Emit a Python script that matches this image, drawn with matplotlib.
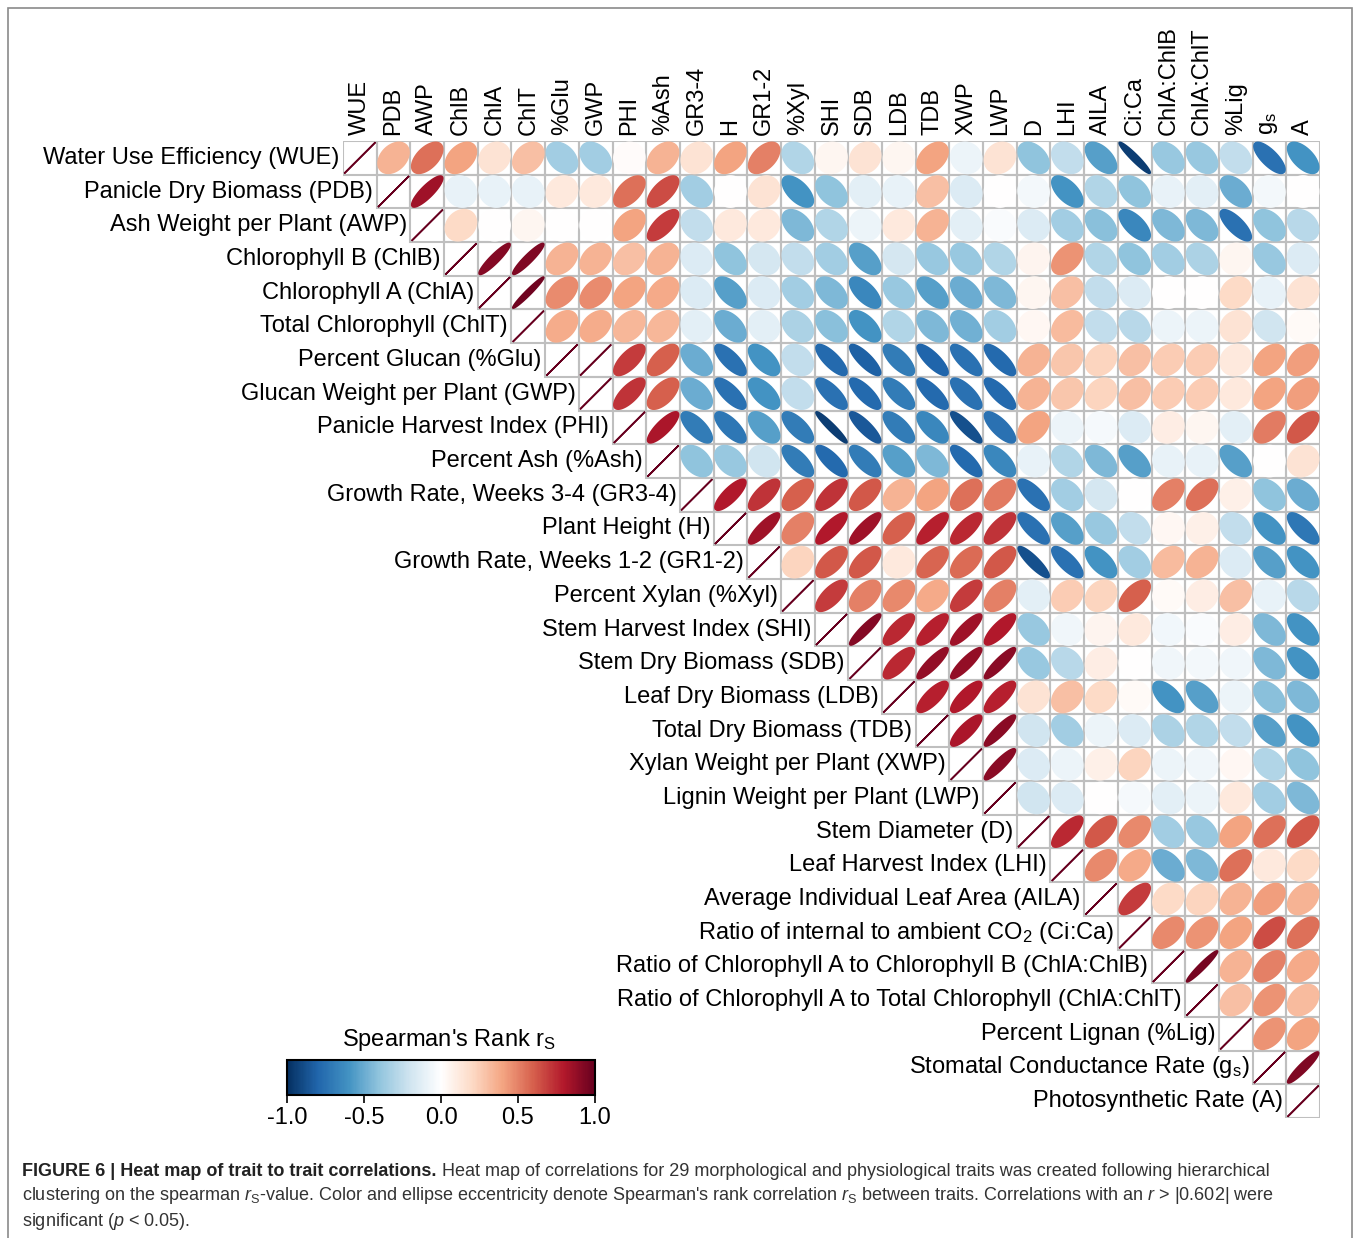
import matplotlib
matplotlib.use("Agg")
import matplotlib.pyplot as plt
import numpy as np
from matplotlib.colors import LinearSegmentedColormap
from matplotlib.patches import Polygon, Rectangle
from matplotlib.cm import ScalarMappable
from matplotlib.colors import Normalize

plt.rcParams['font.family'] = ['Liberation Sans', 'DejaVu Sans']
plt.rcParams['mathtext.fontset'] = 'custom'
plt.rcParams['mathtext.rm'] = 'Liberation Sans'
plt.rcParams['mathtext.it'] = 'Liberation Sans:italic'

short_names = ['WUE', 'PDB', 'AWP', 'ChlB', 'ChlA', 'ChlT', '%Glu', 'GWP', 'PHI', '%Ash',
               'GR3-4', 'H', 'GR1-2', '%Xyl', 'SHI', 'SDB', 'LDB', 'TDB', 'XWP', 'LWP',
               'D', 'LHI', 'AILA', 'Ci:Ca', 'ChlA:ChlB', 'ChlA:ChlT', '%Lig',
               r'g$_\mathregular{s}$', 'A']

long_names = ['Water Use Efficiency (WUE)', 'Panicle Dry Biomass (PDB)', 'Ash Weight per Plant (AWP)',
              'Chlorophyll B (ChlB)', 'Chlorophyll A (ChlA)', 'Total Chlorophyll (ChlT)',
              'Percent Glucan (%Glu)', 'Glucan Weight per Plant (GWP)', 'Panicle Harvest Index (PHI)',
              'Percent Ash (%Ash)', 'Growth Rate, Weeks 3-4 (GR3-4)', 'Plant Height (H)',
              'Growth Rate, Weeks 1-2 (GR1-2)', 'Percent Xylan (%Xyl)', 'Stem Harvest Index (SHI)',
              'Stem Dry Biomass (SDB)', 'Leaf Dry Biomass (LDB)', 'Total Dry Biomass (TDB)',
              'Xylan Weight per Plant (XWP)', 'Lignin Weight per Plant (LWP)', 'Stem Diameter (D)',
              'Leaf Harvest Index (LHI)', 'Average Individual Leaf Area (AILA)',
              r'Ratio of internal to ambient CO$_\mathregular{2}$ (Ci:Ca)',
              'Ratio of Chlorophyll A to Chlorophyll B (ChlA:ChlB)',
              'Ratio of Chlorophyll A to Total Chlorophyll (ChlA:ChlT)', 'Percent Lignan (%Lig)',
              r'Stomatal Conductance Rate (g$_\mathregular{s}$)', 'Photosynthetic Rate (A)']

# upper triangle of the spearman matrix, row i holds columns i+1 .. 28
upper_r = [
    [0.35, 0.55, 0.4, 0.15, 0.3, -0.35, -0.35, 0.02, 0.35, 0.15, 0.4, 0.5, -0.3, 0.05, 0.15, 0.05, 0.4, -0.08,
     0.15, -0.4, -0.25, -0.55, -0.95, -0.38, -0.38, -0.25, -0.75, -0.6],
    [0.85, -0.1, -0.1, -0.1, 0.12, 0.12, 0.55, 0.65, -0.35, 0.0, 0.15, -0.6, -0.4, -0.12, -0.1, 0.3, -0.15, 0.0,
     -0.05, -0.6, -0.3, -0.4, -0.1, -0.12, -0.5, -0.05, 0.0],
    [0.2, 0.0, 0.05, 0.0, 0.0, 0.4, 0.7, -0.25, 0.12, 0.12, -0.45, -0.3, -0.08, 0.12, 0.35, -0.12, -0.03,
     -0.15, -0.35, -0.42, -0.65, -0.45, -0.45, -0.75, -0.4, -0.28],
    [0.92, 0.93, 0.35, 0.35, 0.3, 0.35, -0.15, -0.4, -0.18, -0.25, -0.35, -0.55, -0.18, -0.38, -0.38, -0.3,
     0.06, 0.45, -0.3, -0.4, -0.35, -0.32, 0.05, -0.38, -0.15],
    [0.97, 0.47, 0.47, 0.4, 0.38, -0.15, -0.55, -0.15, -0.35, -0.45, -0.65, -0.38, -0.55, -0.5, -0.45,
     0.05, 0.3, -0.25, -0.15, 0.0, 0.0, 0.2, -0.1, 0.15],
    [0.37, 0.37, 0.33, 0.33, -0.12, -0.5, -0.12, -0.32, -0.42, -0.6, -0.3, -0.45, -0.48, -0.35,
     0.04, 0.32, -0.25, -0.28, -0.08, -0.08, 0.15, -0.2, 0.03],
    [1.0, 0.7, 0.6, -0.5, -0.75, -0.6, -0.25, -0.78, -0.82, -0.7, -0.8, -0.75, -0.78,
     0.35, 0.28, 0.22, 0.3, 0.25, 0.25, 0.12, 0.4, 0.42],
    [0.72, 0.6, -0.5, -0.75, -0.6, -0.25, -0.75, -0.78, -0.7, -0.78, -0.75, -0.78,
     0.35, 0.28, 0.22, 0.3, 0.25, 0.25, 0.12, 0.4, 0.42],
    [0.82, -0.7, -0.72, -0.55, -0.7, -0.95, -0.85, -0.7, -0.65, -0.88, -0.75,
     0.4, -0.08, -0.04, -0.15, 0.1, 0.05, -0.12, 0.52, 0.62],
    [-0.4, -0.38, -0.2, -0.7, -0.78, -0.7, -0.55, -0.45, -0.78, -0.65,
     -0.1, -0.3, -0.45, -0.55, -0.1, -0.1, -0.55, 0.0, 0.15],
    [0.8, 0.72, 0.6, 0.72, 0.62, 0.35, 0.4, 0.55, 0.52, -0.75, -0.35, -0.18, 0.0, 0.5, 0.55, 0.08, -0.4, -0.5],
    [0.85, 0.5, 0.8, 0.85, 0.6, 0.78, 0.75, 0.72, -0.75, -0.55, -0.38, -0.25, 0.04, 0.08, -0.25, -0.6, -0.72],
    [0.22, 0.62, 0.62, 0.12, 0.58, 0.57, 0.62, -0.88, -0.75, -0.6, -0.35, 0.32, 0.35, -0.15, -0.55, -0.6],
    [0.7, 0.5, 0.48, 0.38, 0.7, 0.5, -0.12, 0.25, 0.22, 0.6, 0.03, 0.1, 0.3, -0.1, -0.28],
    [0.92, 0.75, 0.78, 0.85, 0.8, -0.38, -0.07, 0.06, 0.12, -0.06, -0.03, 0.1, -0.45, -0.6],
    [0.75, 0.88, 0.88, 0.9, -0.38, -0.28, 0.1, 0.0, -0.07, -0.05, -0.07, -0.45, -0.6],
    [0.78, 0.8, 0.78, 0.15, 0.3, 0.2, 0.03, -0.6, -0.55, -0.08, -0.42, -0.45],
    [0.82, 0.9, -0.2, -0.35, -0.08, -0.15, -0.32, -0.3, -0.25, -0.55, -0.6],
    [0.9, -0.15, -0.08, 0.08, 0.22, -0.08, -0.07, 0.04, -0.3, -0.4],
    [-0.2, -0.15, 0.0, -0.04, -0.12, -0.08, 0.12, -0.35, -0.45],
    [0.75, 0.62, 0.48, -0.35, -0.38, 0.4, 0.55, 0.62],
    [0.48, 0.38, -0.5, -0.45, 0.55, 0.12, 0.2],
    [0.7, 0.2, 0.22, 0.35, 0.42, 0.35],
    [0.48, 0.45, 0.4, 0.65, 0.55],
    [0.96, 0.35, 0.5, 0.38],
    [0.3, 0.45, 0.32],
    [0.45, 0.4],
    [0.93],
]

n = len(short_names)
R = np.eye(n)
for i, row in enumerate(upper_r):
    R[i, i + 1:] = row

cmap = LinearSegmentedColormap.from_list(
    'corr', ["#053061", "#2166AC", "#4393C3", "#92C5DE", "#D1E5F0", "#FFFFFF",
             "#FDDBC7", "#F4A582", "#D6604D", "#B2182B", "#67001F"])

W, H = 1358, 1238
fig = plt.figure(figsize=(W / 100, H / 100), dpi=100)

# outer frame
fig.patches.append(Rectangle((8 / W, -0.01), 1344 / W, 1 - 8 / H + 0.01, transform=fig.transFigure,
                             fill=False, ec='#8a8a8a', lw=1.2))

x0, x1, y0, y1 = 343, 1320, 141, 1118
ax = fig.add_axes([x0 / W, 1 - y1 / H, (x1 - x0) / W, (y1 - y0) / H])
ax.set_xlim(-0.5, n - 0.5)
ax.set_ylim(n - 0.5, -0.5)
ax.axis('off')

t = np.linspace(0, 2 * np.pi, 120)
for i in range(n):
    for j in range(i, n):
        ax.add_patch(Rectangle((j - 0.5, i - 0.5), 1, 1, fill=False, ec='#bfbfbf', lw=1.5, zorder=1))
        r = R[i, j]
        a = np.arccos(np.clip(r, -1, 1))
        ex = 0.46 * np.cos(t + a / 2)
        ey = 0.46 * np.cos(t - a / 2)
        c = cmap((r + 1) / 2)
        ax.add_patch(Polygon(np.column_stack([j + ex, i - ey]), closed=True, fc=c, ec=c, lw=1.2, zorder=2))

for i, name in enumerate(long_names):
    ax.text(i - 0.6, i, name, ha='right', va='center', fontsize=17, clip_on=False)
for j, name in enumerate(short_names):
    ax.text(j, -0.68, name, rotation=90, ha='center', va='bottom', fontsize=17, clip_on=False)

# colour bar
cax = fig.add_axes([287 / W, 1 - 1095 / H, 308 / W, 35 / H])
cb = fig.colorbar(ScalarMappable(norm=Normalize(-1, 1), cmap=cmap), cax=cax, orientation='horizontal')
cb.set_ticks([-1, -0.5, 0, 0.5, 1])
cb.set_ticklabels(['-1.0', '-0.5', '0.0', '0.5', '1.0'])
cax.tick_params(labelsize=17, length=6, width=1.2, direction='out', pad=3)
cb.outline.set_linewidth(1.5)
fig.text(449 / W, 1 - 1040 / H, r"Spearman's Rank r$_\mathregular{S}$", ha='center', va='center', fontsize=17)

# caption
cap_size = 13
renderer = fig.canvas.get_renderer()
bold = fig.text(22 / W, 1 - 1171 / H, 'FIGURE 6 | Heat map of trait to trait correlations.',
                fontsize=cap_size, fontweight='bold', color='#222222', va='center')
bb = bold.get_window_extent(renderer)
fig.text(bb.x1 / W + 5 / W, 1 - 1171 / H,
         'Heat map of correlations for 29 morphological and physiological traits was created following hierarchical',
         fontsize=cap_size, color='#333333', va='center')
fig.text(22 / W, 1 - 1196 / H,
         r"clustering on the spearman $r_\mathregular{S}$-value. Color and ellipse eccentricity denote Spearman's "
         r"rank correlation $r_\mathregular{S}$ between traits. Correlations with an $r$ > |0.602| were",
         fontsize=cap_size, color='#333333', va='center')
fig.text(22 / W, 1 - 1221 / H, r'significant ($p$ < 0.05).', fontsize=cap_size, color='#333333', va='center')

fig.savefig('out.png', dpi=100)
